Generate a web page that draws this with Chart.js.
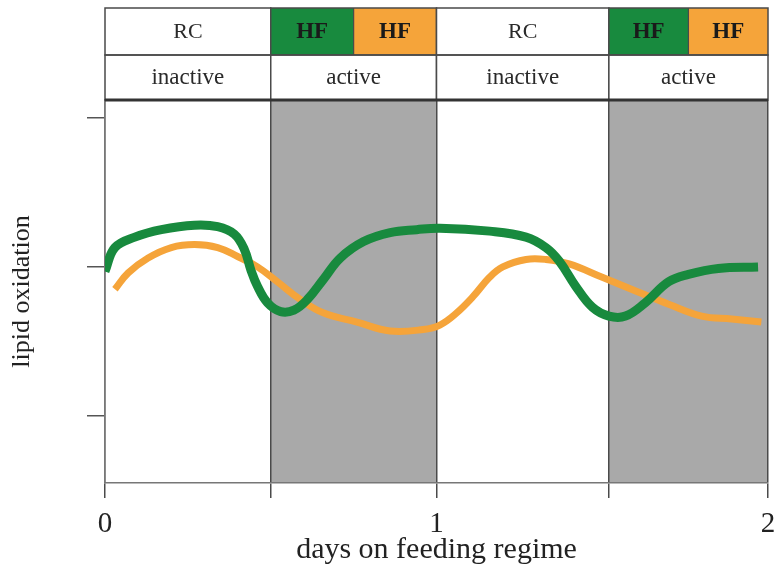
<!DOCTYPE html>
<html>
<head>
<meta charset="utf-8">
<script src="https://cdn.jsdelivr.net/npm/chart.js@4/dist/chart.umd.min.js"></script>
<style>
  html, body { margin: 0; padding: 0; background: #fff; }
  #wrap { width: 780px; height: 575px; position: relative; }
</style>
</head>
<body>
<div id="wrap"><canvas id="chart"></canvas></div>
<script>
// ── Data ─────────────────────────────────────────────────────────────────────

// Green curve: x = days on feeding regime, y = lipid oxidation (arbitrary units)
const greenDays  = [0, 0.03, 0.09, 0.17, 0.27, 0.34, 0.39, 0.42, 0.44, 0.46, 0.49, 0.53, 0.57, 0.61, 0.66, 0.71, 0.78, 0.86, 0.94, 1.01, 1.16, 1.27, 1.33, 1.37, 1.42, 1.47, 1.52, 1.57, 1.63, 1.70, 1.76, 1.85, 1.97];
const greenLipid = [0.97, 1.13, 1.20, 1.25, 1.28, 1.27, 1.22, 1.12, 0.98, 0.87, 0.76, 0.70, 0.71, 0.78, 0.92, 1.06, 1.17, 1.23, 1.25, 1.26, 1.24, 1.20, 1.13, 1.04, 0.87, 0.73, 0.67, 0.67, 0.76, 0.90, 0.95, 0.99, 1.00];

// Orange curve
const orangeDays  = [0.03, 0.07, 0.13, 0.20, 0.27, 0.34, 0.40, 0.46, 0.52, 0.59, 0.66, 0.76, 0.86, 0.96, 1.01, 1.06, 1.11, 1.16, 1.20, 1.27, 1.33, 1.40, 1.50, 1.61, 1.70, 1.80, 1.89, 1.98];
const orangeLipid = [0.85, 0.96, 1.06, 1.13, 1.15, 1.13, 1.07, 1.00, 0.90, 0.78, 0.69, 0.63, 0.57, 0.58, 0.61, 0.69, 0.80, 0.93, 1.00, 1.05, 1.05, 1.02, 0.93, 0.83, 0.75, 0.67, 0.65, 0.63];

// Phases along the x axis (boundaries in days) and their header labels
const phaseBounds = [0, 0.5, 1, 1.52, 2];
const phaseLabels = ["inactive", "active", "inactive", "active"];
const dietLabels  = ["RC", "HF", "RC", "HF"];

// Y axis tick marks (unlabelled)
const yTicks = [0, 1, 2];
const xTickLabels = { 0: "0", 1: "1", 2: "2" };

const GREEN  = "#188a3e";
const ORANGE = "#f5a43a";
const SHADE  = "#a9a9a9";
const EDGE   = "#4a4a4a";
const FONT   = "'Liberation Serif', 'DejaVu Serif', serif";

// ── Header boxes + shaded active phases ──────────────────────────────────────

const phasePlugin = {
  id: "phases",
  beforeDraw(chart) {
    const { ctx, chartArea: a, scales: { x } } = chart;
    ctx.save();
    ctx.fillStyle = SHADE;
    phaseLabels.forEach((p, i) => {
      if (p !== "active") return;
      const x0 = x.getPixelForValue(phaseBounds[i]);
      const x1 = x.getPixelForValue(phaseBounds[i + 1]);
      ctx.fillRect(x0, a.top, x1 - x0, a.bottom - a.top);
    });
    ctx.restore();
  },
  afterDraw(chart) {
    const { ctx, chartArea: a, scales: { x } } = chart;
    const top = 8, mid = 55, bot = a.top;

    ctx.save();
    ctx.textAlign = "center";
    ctx.textBaseline = "middle";

    phaseLabels.forEach((p, i) => {
      const x0 = x.getPixelForValue(phaseBounds[i]);
      const x1 = x.getPixelForValue(phaseBounds[i + 1]);

      // diet row
      if (dietLabels[i] === "HF") {
        const xm = (x0 + x1) / 2;
        ctx.fillStyle = GREEN;
        ctx.fillRect(x0, top, xm - x0, mid - top);
        ctx.fillStyle = ORANGE;
        ctx.fillRect(xm, top, x1 - xm, mid - top);
        ctx.fillStyle = "#1a1a1a";
        ctx.font = "bold 23px " + FONT;
        ctx.fillText("HF", (x0 + xm) / 2, (top + mid) / 2 + 1);
        ctx.fillText("HF", (xm + x1) / 2, (top + mid) / 2 + 1);
        ctx.strokeStyle = EDGE;
        ctx.lineWidth = 1.2;
        ctx.beginPath();
        ctx.moveTo(xm, top);
        ctx.lineTo(xm, mid);
        ctx.stroke();
      } else {
        ctx.fillStyle = "#fff";
        ctx.fillRect(x0, top, x1 - x0, mid - top);
        ctx.fillStyle = "#2a2a2a";
        ctx.font = "22px " + FONT;
        ctx.fillText(dietLabels[i], (x0 + x1) / 2, (top + mid) / 2 + 1);
      }

      // light/dark phase row
      ctx.fillStyle = "#fff";
      ctx.fillRect(x0, mid, x1 - x0, bot - mid);
      ctx.fillStyle = "#2a2a2a";
      ctx.font = "23px " + FONT;
      ctx.fillText(p, (x0 + x1) / 2, (mid + bot) / 2);

      // cell borders
      ctx.strokeStyle = EDGE;
      ctx.lineWidth = 1.5;
      ctx.strokeRect(x0, top, x1 - x0, mid - top);
      ctx.strokeRect(x0, mid, x1 - x0, bot - mid);
    });

    // heavy line under the header
    ctx.strokeStyle = "#333";
    ctx.lineWidth = 3;
    ctx.beginPath();
    ctx.moveTo(a.left, bot);
    ctx.lineTo(a.right, bot);
    ctx.stroke();
    ctx.restore();
  },
};

// ── Chart ────────────────────────────────────────────────────────────────────

const toPoints = (xs, ys) => xs.map((d, i) => ({ x: d, y: ys[i] }));

new Chart(document.getElementById("chart"), {
  type: "line",
  data: {
    datasets: [
      {
        label: "green",
        data: toPoints(greenDays, greenLipid),
        borderColor: GREEN,
        borderWidth: 9,
        borderCapStyle: "butt",
        pointRadius: 0,
        tension: 0.4,
      },
      {
        label: "orange",
        data: toPoints(orangeDays, orangeLipid),
        borderColor: ORANGE,
        borderWidth: 7,
        borderCapStyle: "butt",
        pointRadius: 0,
        tension: 0.4,
      },
    ],
  },
  options: {
    responsive: true,
    maintainAspectRatio: false,
    animation: false,
    layout: { padding: { top: 100, right: 12, left: 0, bottom: 0 } },
    plugins: { legend: { display: false }, tooltip: { enabled: false } },
    scales: {
      x: {
        type: "linear",
        min: 0,
        max: 2,
        afterBuildTicks: s => { s.ticks = phaseBounds.map(v => ({ value: v })); },
        afterFit: s => { s.height = 92; s.paddingLeft = 0; s.paddingRight = 0; },
        ticks: {
          autoSkip: false,
          maxRotation: 0,
          padding: 9,
          color: "#222",
          font: { family: FONT, size: 29 },
          callback: v => xTickLabels[v] ?? "",
        },
        grid: { color: EDGE, lineWidth: 1.5, tickLength: 15, tickColor: EDGE },
        border: { color: "#777", width: 1.5 },
        title: {
          display: true,
          text: "days on feeding regime",
          color: "#222",
          font: { family: FONT, size: 30 },
          padding: { top: 0, bottom: 7 },
        },
      },
      y: {
        min: -0.45,
        max: 2.12,
        afterBuildTicks: s => { s.ticks = yTicks.map(v => ({ value: v })); },
        afterFit: s => { s.width = 105; },
        ticks: { callback: () => "" },
        grid: { drawOnChartArea: false, tickLength: 18, tickColor: "#555", lineWidth: 1.5 },
        border: { color: "#777", width: 1.5 },
        title: {
          display: true,
          text: "lipid oxidation",
          color: "#222",
          font: { family: FONT, size: 26 },
          padding: { top: 7, bottom: 0 },
        },
      },
    },
  },
  plugins: [phasePlugin],
});
</script>
</body>
</html>
